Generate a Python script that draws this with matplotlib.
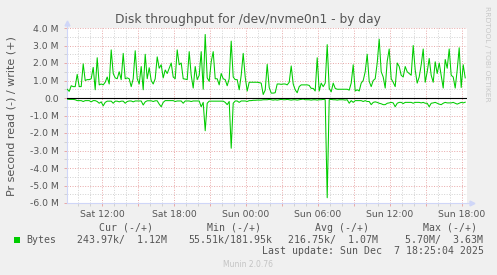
import numpy as np
import matplotlib
matplotlib.use('Agg')
import matplotlib.pyplot as plt
from matplotlib.patches import Rectangle
from matplotlib.ticker import MultipleLocator, FuncFormatter

# samples every 10 min, hours since Sat 00:00
t_start = 9.1
t_step = 1 / 6

# write (+), MB/s
write_m = [
    0.5, 0.38, 0.7, 0.65, 0.65, 1.35, 0.65, 0.65, 1.95, 1.0,
    1.05, 1.05, 1.1, 1.75, 0.47, 2.3, 0.75, 0.8, 0.75, 0.9,
    1.2, 0.8, 2.75, 1.4, 1.15, 1.1, 1.5, 1.05, 2.55, 1.1,
    1.15, 1.1, 0.65, 1.1, 2.7, 1.1, 0.8, 1.8, 0.47, 2.5,
    1.1, 1.73, 1.0, 0.8, 1.1, 2.35, 1.7, 1.9, 1.15, 1.6,
    1.4, 1.7, 2.0, 1.2, 1.1, 2.75, 1.9, 2.0, 1.1, 1.08,
    1.05, 2.65, 1.3, 0.57, 1.8, 1.05, 1.3, 2.65, 0.5, 3.63,
    1.15, 0.95, 2.07, 2.65, 1.1, 1.1, 0.75, 1.4, 1.1, 1.05,
    0.7, 1.1, 3.25, 1.2, 1.05, 1.05, 0.47, 1.3, 2.55, 1.2,
    0.4, 0.9, 0.9, 0.9, 0.9, 0.9, 0.88, 0.85, 0.2, 0.45,
    1.92, 0.6, 0.28, 0.28, 0.3, 0.8, 0.8, 0.78, 0.8, 0.8,
    0.75, 0.9, 1.83, 0.8, 0.47, 0.3, 0.65, 0.75, 0.75, 0.75,
    0.75, 0.72, 0.55, 0.55, 0.4, 2.3, 0.4, 0.85, 0.65, 0.85,
    3.05, 0.55, 0.35, 0.85, 0.55, 0.5, 0.5, 0.5, 0.5, 0.5,
    0.5, 0.45, 0.85, 1.9, 0.4, 0.47, 0.4, 0.85, 1.0, 1.5,
    2.5, 0.95, 0.65, 1.0, 1.1, 2.0, 3.36, 1.5, 1.2, 0.57,
    2.1, 2.8, 1.1, 0.9, 0.65, 2.0, 1.8, 1.3, 1.2, 1.8,
    1.5, 1.4, 1.3, 3.0, 1.6, 0.85, 1.2, 1.9, 2.8, 0.9,
    1.5, 2.26, 1.3, 0.9, 2.07, 1.4, 2.0, 1.3, 0.57, 2.2,
    1.7, 2.8, 1.3, 1.2, 0.57, 1.6, 2.87, 0.6, 1.9, 1.15,
]

# read (-), MB/s, drawn below zero
read_m = [
    -0.06, -0.08, -0.08, -0.08, -0.1, -0.15, -0.15, -0.15, -0.2, -0.15,
    -0.15, -0.15, -0.22, -0.15, -0.15, -0.2, -0.3, -0.22, -0.45, -0.25,
    -0.18, -0.18, -0.18, -0.3, -0.18, -0.18, -0.22, -0.18, -0.18, -0.3,
    -0.2, -0.17, -0.17, -0.22, -0.17, -0.17, -0.17, -0.17, -0.4, -0.22,
    -0.16, -0.16, -0.16, -0.2, -0.16, -0.16, -0.35, -0.5, -0.25, -0.15,
    -0.15, -0.15, -0.15, -0.15, -0.2, -0.17, -0.17, -0.17, -0.3, -0.17,
    -0.17, -0.17, -0.2, -0.17, -0.17, -0.17, -0.17, -0.5, -0.25, -1.87,
    -0.3, -0.18, -0.18, -0.18, -0.18, -0.18, -0.18, -0.18, -0.18, -0.25,
    -0.38, -0.2, -2.87, -0.3, -0.17, -0.17, -0.25, -0.17, -0.17, -0.17,
    -0.2, -0.15, -0.15, -0.13, -0.13, -0.12, -0.12, -0.12, -0.1, -0.1,
    -0.1, -0.08, -0.1, -0.12, -0.1, -0.12, -0.1, -0.08, -0.1, -0.1,
    -0.08, -0.1, -0.12, -0.1, -0.1, -0.12, -0.1, -0.08, -0.06, -0.1,
    -0.1, -0.1, -0.12, -0.1, -0.1, -0.12, -0.1, -0.1, -0.08, -0.1,
    -5.7, -0.1, -0.08, -0.1, -0.1, -0.12, -0.1, -0.1, -0.1, -0.12,
    -0.1, -0.3, -0.15, -0.25, -0.15, -0.15, -0.15, -0.15, -0.2, -0.15,
    -0.2, -0.2, -0.38, -0.25, -0.22, -0.25, -0.3, -0.33, -0.38, -0.38,
    -0.3, -0.28, -0.25, -0.28, -0.5, -0.3, -0.25, -0.25, -0.32, -0.25,
    -0.25, -0.25, -0.25, -0.3, -0.25, -0.25, -0.25, -0.28, -0.25, -0.3,
    -0.3, -0.5, -0.3, -0.28, -0.25, -0.3, -0.35, -0.38, -0.3, -0.25,
    -0.28, -0.28, -0.28, -0.25, -0.3, -0.35, -0.3, -0.25, -0.28, -0.24,
]

tick_hours = [12, 18, 24, 30, 36, 42]
tick_labels = ['Sat 12:00', 'Sat 18:00', 'Sun 00:00', 'Sun 06:00', 'Sun 12:00', 'Sun 18:00']

legend_headers = ['Cur (-/+)', 'Min (-/+)', 'Avg (-/+)', 'Max (-/+)']
legend_values = ['243.97k/  1.12M', '55.51k/181.95k', '216.75k/  1.07M', '5.70M/  3.63M']

W, H = 497, 275
BG = '#F0F0F0'
GREEN = '#00CC00'
TXT = '#555555'
AXIS = '#CFD6F8'
MINOR = '#D2D2D2'
MAJOR = '#E8A8A8'


def px(x, y):
    # pixel (from top-left) -> figure fraction
    return x / W, 1 - y / H


fig = plt.figure(figsize=(W / 100, H / 100), dpi=100, facecolor=BG)
ax = fig.add_axes([67 / W, 72 / H, 400 / W, 175 / H])
ax.set_facecolor('white')

t_w = t_start + np.arange(len(write_m)) * t_step
t_r = t_start + np.arange(len(read_m)) * t_step
ax.plot(t_w, write_m, color=GREEN, lw=0.75, zorder=3)
ax.plot(t_r, read_m, color=GREEN, lw=0.75, zorder=3)
ax.axhline(0, color='black', lw=0.8, zorder=4)

ax.set_xlim(9.0833, 42.4167)
ax.set_ylim(-6, 4)

ax.xaxis.set_major_locator(MultipleLocator(3))
ax.xaxis.set_minor_locator(MultipleLocator(1))
lab = dict(zip(tick_hours, tick_labels))
ax.xaxis.set_major_formatter(FuncFormatter(lambda v, p: lab.get(int(round(v)), '')))
ax.yaxis.set_major_locator(MultipleLocator(1))
ax.yaxis.set_minor_locator(MultipleLocator(0.5))
ax.yaxis.set_major_formatter(FuncFormatter(lambda v, p: '0.0' if abs(v) < 1e-9 else f'{v:.1f} M'))

dots = (0, (1, 1.6))
ax.grid(which='minor', color=MINOR, lw=0.7, linestyle=dots)
ax.grid(which='major', color=MAJOR, lw=0.7, linestyle=dots)
ax.set_axisbelow(True)

ax.tick_params(which='both', length=2, width=0.7, colors=MINOR, labelcolor=TXT, labelsize=6.7)
ax.tick_params(which='major', colors=MAJOR, labelcolor=TXT)
ax.tick_params(axis='x', pad=3)
ax.tick_params(axis='y', pad=4)

for s in ['top', 'right']:
    ax.spines[s].set_visible(False)
for s in ['left', 'bottom']:
    ax.spines[s].set_color(AXIS)
    ax.spines[s].set_linewidth(0.8)

# arrows at the axis ends
ax.plot([0, 0], [1, 1.03], color=AXIS, lw=0.8, transform=ax.transAxes, clip_on=False)
ax.plot([0], [1.03], marker='^', ms=3.5, color=AXIS, transform=ax.transAxes, clip_on=False)
ax.plot([1, 1.012], [0, 0], color=AXIS, lw=0.8, transform=ax.transAxes, clip_on=False)
ax.plot([1.012], [0], marker='>', ms=3.5, color=AXIS, transform=ax.transAxes, clip_on=False)

fig.text(*px(248, 23.5), 'Disk throughput for /dev/nvme0n1 - by day', ha='center',
         va='baseline', fontsize=8.8, color=TXT)
fig.text(*px(12, 116), 'Pr second read (-) / write (+)', rotation=90, ha='center',
         va='center', fontsize=8.0, color=TXT)
fig.text(*px(487, 54), 'RRDTOOL / TOBI OETIKER', rotation=270, ha='center',
         va='center', fontsize=5.4, color='#C8C8C8')

mono = 'DejaVu Sans Mono'
for xh, s in zip([98.7, 206.7, 315, 422.7], legend_headers):
    fig.text(*px(xh, 231), s, family=mono, fontsize=7.1, color=TXT, va='baseline')
fig.add_artist(Rectangle(px(14, 242.5), 5.5 / W, 5.5 / H, transform=fig.transFigure,
                         color=GREEN, lw=0))
fig.text(*px(26.7, 243), 'Bytes', family=mono, fontsize=7.1, color=TXT, va='baseline')
for xv, s in zip([77.3, 188.7, 287.7, 405], legend_values):
    fig.text(*px(xv, 243), s, family=mono, fontsize=7.1, color=TXT, va='baseline')
fig.text(*px(261.7, 254), 'Last update: Sun Dec  7 18:25:04 2025', family=mono,
         fontsize=7.1, color=TXT, va='baseline')
fig.text(*px(248, 267), 'Munin 2.0.76', ha='center', va='baseline', fontsize=5.5,
         color='#C4C4C4')

fig.savefig('out.png', dpi=100, facecolor=BG)
